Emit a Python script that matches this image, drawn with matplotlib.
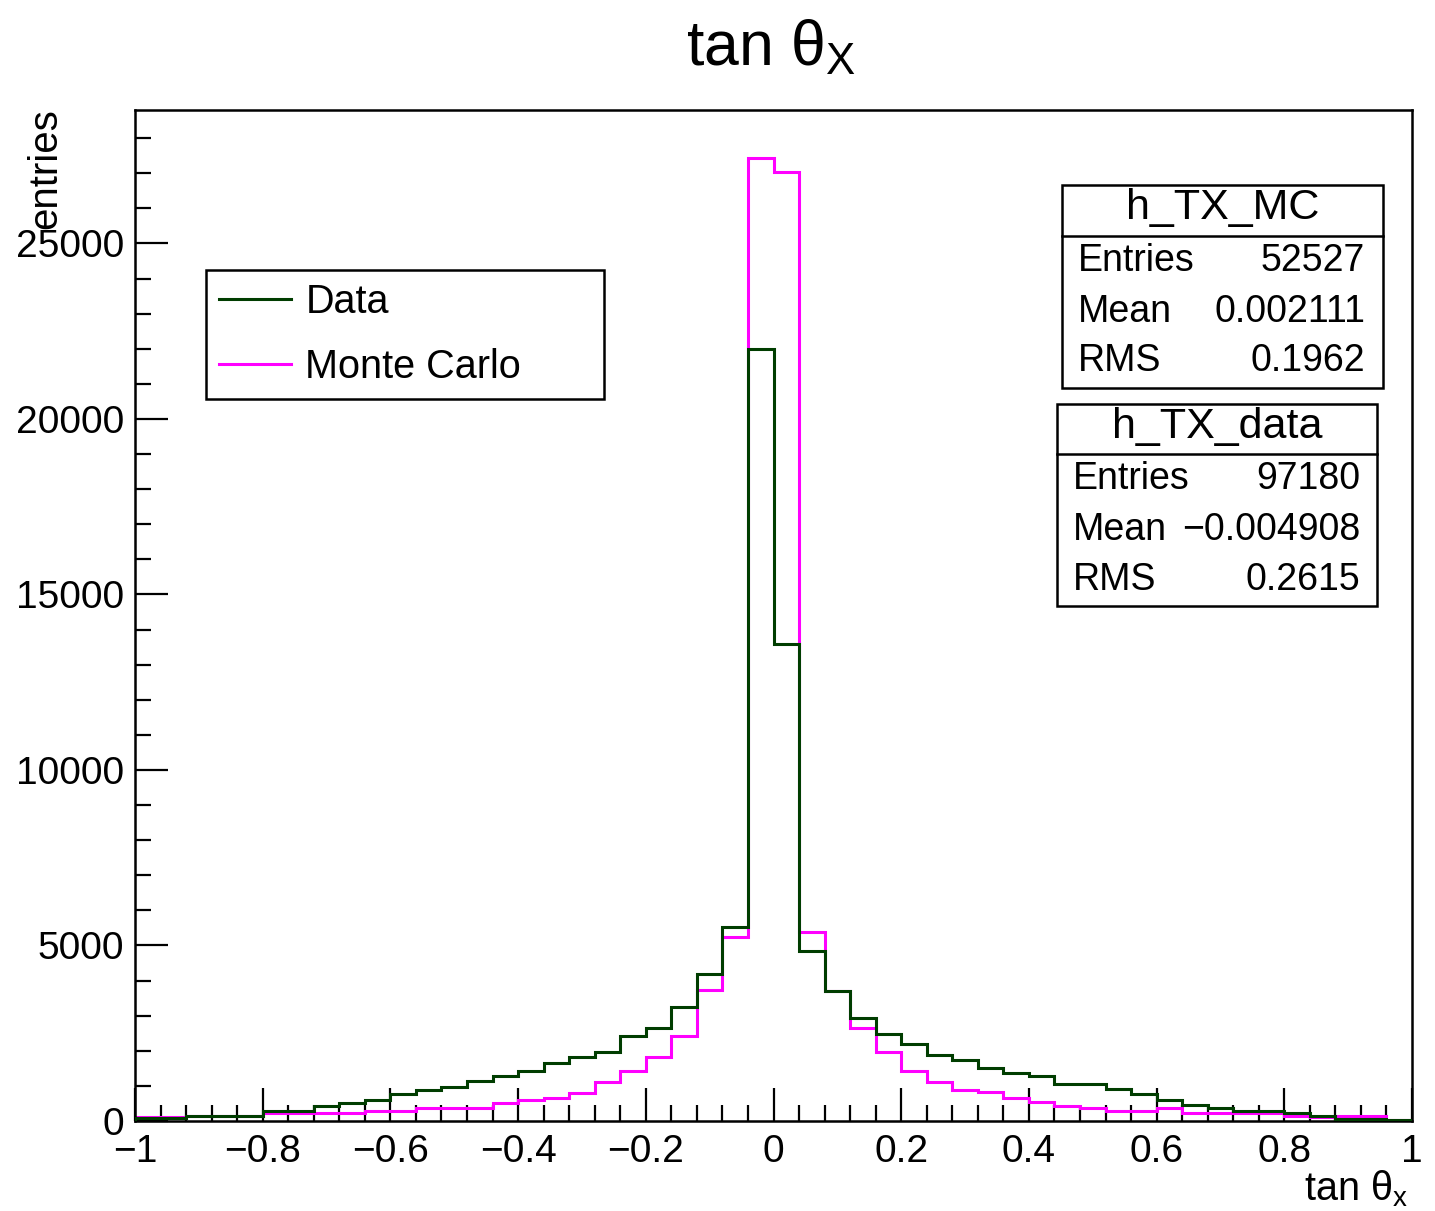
import numpy as np
import matplotlib
matplotlib.use("Agg")
import matplotlib.pyplot as plt
from matplotlib.ticker import MultipleLocator, FuncFormatter
from matplotlib.patches import Rectangle
from matplotlib.lines import Line2D

plt.rcParams['font.family'] = ['Liberation Sans', 'DejaVu Sans']
plt.rcParams['mathtext.fontset'] = 'custom'
plt.rcParams['mathtext.rm'] = 'Liberation Sans'
plt.rcParams['mathtext.it'] = 'Liberation Sans'
plt.rcParams['mathtext.default'] = 'rm'

# ---- data ----
x_min, x_max, n_bins = -1.0, 1.0, 50
data_counts = [77, 77, 142, 142, 142, 285, 285, 437, 522, 600,
               760, 884, 980, 1140, 1283, 1435, 1663, 1815, 1967, 2423,
               2642, 3240, 4180, 5530, 22000, 13600, 4854, 3714, 2945, 2480,
               2185, 1881, 1729, 1501, 1358, 1283, 1055, 1055, 903, 760,
               600, 456, 361, 295, 295, 219, 142, 60, 60, 40]
mc_counts = [123, 123, 130, 130, 130, 237, 237, 237, 237, 285,
             285, 361, 361, 361, 523, 600, 665, 808, 1121, 1435,
             1815, 2423, 3733, 5240, 27445, 27046, 5377, 3714, 2641, 1957,
             1435, 1121, 884, 817, 665, 532, 437, 361, 295, 295,
             361, 219, 219, 219, 219, 142, 120, 140, 140, 40]
legend_labels = ["Data", "Monte Carlo"]
stats_mc = ("h_TX_MC", [("Entries", "52527"), ("Mean", "0.002111"), ("RMS", "0.1962")])
stats_data = ("h_TX_data", [("Entries", "97180"), ("Mean", "\u22120.004908"), ("RMS", "0.2615")])

edges = np.linspace(x_min, x_max, n_bins + 1)

W, H = 1435, 1211
fig = plt.figure(figsize=(W / 100, H / 100), dpi=100)

def fx(px):
    return px / W

def fy(py):
    return 1 - py / H

ax = fig.add_axes([fx(135), fy(1121), fx(1412) - fx(135), fy(110) - fy(1121)])

green = '#003d00'
magenta = '#ff00ff'
ax.stairs(mc_counts, edges, color=magenta, linewidth=2.2, label=legend_labels[1], zorder=2)
ax.stairs(data_counts, edges, color=green, linewidth=2.2, label=legend_labels[0], zorder=3)

ax.set_xlim(x_min, x_max)
ax.set_ylim(0, 28800)

ax.xaxis.set_major_locator(MultipleLocator(0.2))
ax.xaxis.set_minor_locator(MultipleLocator(0.04))
ax.yaxis.set_major_locator(MultipleLocator(5000))
ax.yaxis.set_minor_locator(MultipleLocator(1000))

def xfmt(v, pos):
    s = '%g' % round(v, 6)
    if s == '-0':
        s = '0'
    return s.replace('-', '\u2212')

ax.xaxis.set_major_formatter(FuncFormatter(xfmt))
ax.yaxis.set_major_formatter(FuncFormatter(lambda v, p: '%d' % v))

ax.tick_params(which='both', direction='in', top=False, right=False, width=1.6, labelsize=28)
ax.tick_params(which='major', length=23.5)
ax.tick_params(which='minor', length=11.5)
ax.tick_params(axis='x', pad=9)
ax.tick_params(axis='y', pad=8)
for sp in ax.spines.values():
    sp.set_linewidth(1.8)

# title and axis labels
fig.text(fx(771), fy(48), r'tan θ$_{\mathrm{X}}$', ha='center', va='center', fontsize=45)
fig.text(fx(45), fy(108), 'entries', rotation=90, ha='center', va='top', fontsize=29)
fig.text(fx(1408), fy(1189), r'tan θ$_{\mathrm{x}}$', ha='right', va='center', fontsize=28.5)

# legend
handles = [Line2D([], [], color=green, lw=2.2), Line2D([], [], color=magenta, lw=2.2)]
leg = fig.legend(handles, legend_labels, loc='upper left',
                 bbox_to_anchor=(fx(206), fy(398), fx(604) - fx(206), fy(270) - fy(398)),
                 mode='expand', fontsize=28.5, frameon=True, fancybox=False,
                 edgecolor='black', handlelength=1.82, handletextpad=0.36,
                 borderpad=0.33, labelspacing=0.68, borderaxespad=0)
leg.get_frame().set_linewidth(1.8)
leg.get_frame().set_alpha(1)

# stats boxes
def stats_box(x0, x1, y0, y1, ysep, title, rows, xl, xr, row_y, title_y):
    fig.patches.append(Rectangle((fx(x0), fy(y1)), fx(x1) - fx(x0), fy(y0) - fy(y1),
                                 transform=fig.transFigure, facecolor='white',
                                 edgecolor='black', linewidth=1.8, zorder=5))
    fig.lines.append(Line2D([fx(x0), fx(x1)], [fy(ysep), fy(ysep)],
                            transform=fig.transFigure, color='black', linewidth=1.8, zorder=6))
    fig.text(fx((x0 + x1) / 2), fy(title_y), title, ha='center', va='center', fontsize=31, zorder=7)
    for (lab, val), yy in zip(rows, row_y):
        fig.text(fx(xl), fy(yy), lab, ha='left', va='center', fontsize=27, zorder=7)
        fig.text(fx(xr), fy(yy), val, ha='right', va='center', fontsize=27, zorder=7)

stats_box(1062, 1383, 185, 388, 236, stats_mc[0], stats_mc[1], 1078, 1365, [261, 312, 361], 208)
stats_box(1057, 1377, 404, 606, 454, stats_data[0], stats_data[1], 1073, 1360, [479, 530, 580], 427)

fig.savefig('out.png', dpi=100)
